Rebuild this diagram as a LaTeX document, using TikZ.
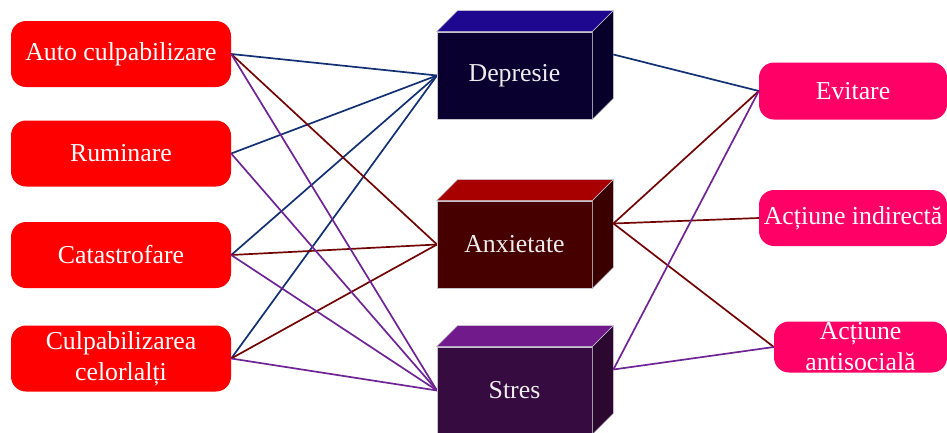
\documentclass[tikz,border=0pt]{standalone}
\usepackage{fontspec}
\setmainfont{Liberation Serif}
\definecolor{lred}{HTML}{FF0000}
\definecolor{rpink}{HTML}{FF0066}
\definecolor{lblue}{HTML}{123072}
\definecolor{lmar}{HTML}{720404}
\definecolor{lpur}{HTML}{6E2494}
\definecolor{depF}{HTML}{0A0030}
\definecolor{depT}{HTML}{1E0890}
\definecolor{depS}{HTML}{07002A}
\definecolor{anxF}{HTML}{470000}
\definecolor{anxT}{HTML}{A80000}
\definecolor{anxS}{HTML}{3A0000}
\definecolor{strF}{HTML}{360C40}
\definecolor{strT}{HTML}{701A8C}
\definecolor{strS}{HTML}{2C0830}
\definecolor{edgec}{HTML}{C8C4D0}
\newcommand\cubebox[6]{%
  \node[cube, fill=#4] (#1) at #2 {#3};
  \draw[fill=#5, cubeedge] (#1.north west) -- ([shift={(21pt,21pt)}]#1.north west) -- ([shift={(21pt,21pt)}]#1.north east) -- (#1.north east) -- cycle;
  \draw[fill=#6, cubeedge] (#1.north east) -- ([shift={(21pt,21pt)}]#1.north east) -- ([shift={(21pt,21pt)}]#1.south east) -- (#1.south east) -- cycle;
  \coordinate (#1r) at ([shift={(21pt,21pt)}]#1.east);
}
\begin{document}
\begin{tikzpicture}[x=1pt,y=-1pt,
  txt/.style={font=\fontsize{25.8}{31}\selectfont, align=center, inner sep=0pt},
  lbox/.style={txt, rounded corners=15pt, fill=lred, text=white, minimum width=220pt, minimum height=66pt},
  rbox/.style={txt, rounded corners=15pt, fill=rpink, text=white, minimum height=56pt},
  cube/.style={txt, draw=edgec, line width=0.8pt, text=white!93!black, minimum width=155pt, minimum height=87pt},
  cubeedge/.style={draw=edgec, line width=0.6pt},
  conn/.style={line width=1.7pt},
  cblue/.style={conn, draw=lblue},
  cmar/.style={conn, draw=lmar},
  cpur/.style={conn, draw=lpur}]
\useasboundingbox (0,0) rectangle (947,432);
\clip (0,0) rectangle (947,432);
% left boxes
\node[lbox] (auto) at (121,54) {Auto culpabilizare};
\node[lbox] (rum) at (121,153.5) {Ruminare};
\node[lbox] (cat) at (121,255) {Catastrofare};
\node[lbox] (cul) at (121,358.5) {Culpabilizarea\\celorlalți};
% right boxes
\node[rbox, minimum width=188pt, minimum height=57pt] (evi) at (853,91) {Evitare};
\node[rbox, minimum width=188pt] (ind) at (853,218) {Acțiune indirectă};
\node[rbox, minimum width=173pt, minimum height=51pt] (ant) at (860.5,347) {Acțiune\\antisocială};
% middle cube positions
\path (514.5,75.5) coordinate (depc) (514.5,244.5) coordinate (anxc) (514.5,390.5) coordinate (strc);
\coordinate (depl) at (437,75.5);
\coordinate (anxl) at (437,244.5);
\coordinate (strl) at (437,390.5);
% connectors
\draw[cblue] (auto.east) -- (depl);
\draw[cblue] (rum.east) -- (depl);
\draw[cblue] (cat.east) -- (depl);
\draw[cblue] (cul.east) -- (depl);
\draw[cmar] (auto.east) -- (anxl);
\draw[cmar] (cat.east) -- (anxl);
\draw[cmar] (cul.east) -- (anxl);
\draw[cpur] (auto.east) -- (strl);
\draw[cpur] (rum.east) -- (strl);
\draw[cpur] (cat.east) -- (strl);
\draw[cpur] (cul.east) -- (strl);
\cubebox{dep}{(depc)}{Depresie}{depF}{depT}{depS}
\cubebox{anx}{(anxc)}{Anxietate}{anxF}{anxT}{anxS}
\cubebox{str}{(strc)}{Stres}{strF}{strT}{strS}
\draw[cblue] (depr) -- (evi.west);
\draw[cmar] (anxr) -- (evi.west);
\draw[cmar] (anxr) -- (ind.west);
\draw[cmar] (anxr) -- (ant.west);
\draw[cpur] (strr) -- (evi.west);
\draw[cpur] (strr) -- (ant.west);
\end{tikzpicture}
\end{document}
